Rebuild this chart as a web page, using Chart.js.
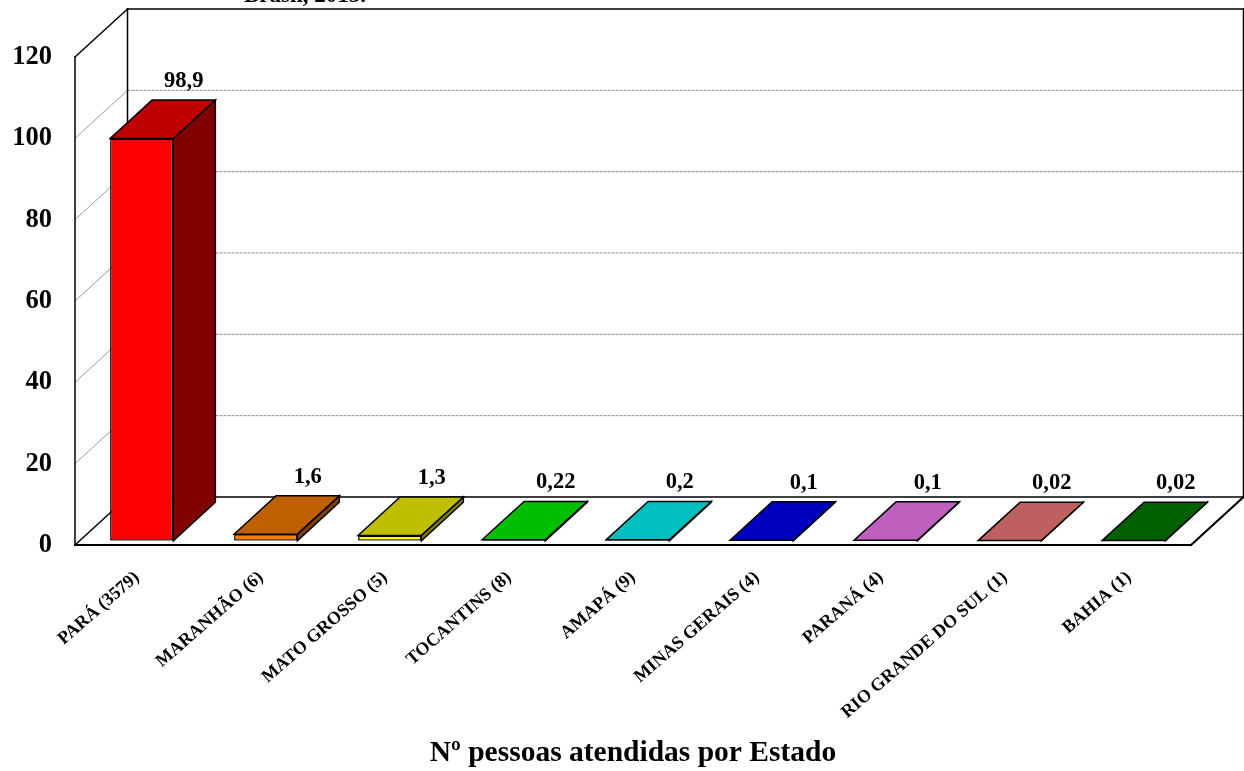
<!DOCTYPE html>
<html lang="pt-BR">
<head>
<meta charset="utf-8">
<title>Nº pessoas atendidas por Estado</title>
<script src="https://cdn.jsdelivr.net/npm/chart.js@4.4.1/dist/chart.umd.min.js"></script>
<style>
  html, body { margin: 0; padding: 0; background: #ffffff; }
  #wrap { position: relative; width: 1244px; height: 771px; }
</style>
</head>
<body>
<div id="wrap"><canvas id="chart"></canvas></div>
<script>
// Estados (entre parênteses, número de pessoas atendidas)
const estados = [
  'PARÁ (3579)', 'MARANHÃO (6)', 'MATO GROSSO (5)', 'TOCANTINS (8)', 'AMAPÁ (9)',
  'MINAS GERAIS (4)', 'PARANÁ (4)', 'RIO GRANDE DO SUL (1)', 'BAHIA (1)'
];
// Percentual de pessoas atendidas por Estado
const percentuais = [98.9, 1.6, 1.3, 0.22, 0.2, 0.1, 0.1, 0.02, 0.02];
// Escala do eixo vertical
const eixoY = { min: 0, max: 120, passo: 20 };
// Cor da face frontal de cada barra
const coresFrente = ['#FF0000', '#FF8000', '#FFFF00', '#00FF00', '#00FFFF', '#0000FF', '#FF80FF', '#FF8080', '#008000'];
const tituloEixoX = 'Nº pessoas atendidas por Estado';
const tituloTopo = 'Brasil, 2013.';

const FONTE = '"Liberation Serif", "Times New Roman", serif';

// Profundidade da caixa 3D (vetor de recuo) e posição das barras dentro dela
const PROF = { dx: 52.5, dy: -48 };
const RECUO_FRENTE = 0.09;
const RECUO_FUNDO = 0.89;

function escurecer(hex, k) {
  const n = parseInt(hex.slice(1), 16);
  const r = Math.round(((n >> 16) & 255) * k);
  const g = Math.round(((n >> 8) & 255) * k);
  const b = Math.round((n & 255) * k);
  return `rgb(${r},${g},${b})`;
}

function poligono(ctx, pts, fill, stroke, lw) {
  ctx.beginPath();
  ctx.moveTo(pts[0][0], pts[0][1]);
  for (let i = 1; i < pts.length; i++) ctx.lineTo(pts[i][0], pts[i][1]);
  ctx.closePath();
  if (fill) { ctx.fillStyle = fill; ctx.fill(); }
  if (stroke) { ctx.strokeStyle = stroke; ctx.lineWidth = lw; ctx.lineJoin = 'miter'; ctx.stroke(); }
}

function linha(ctx, x1, y1, x2, y2) {
  ctx.beginPath();
  ctx.moveTo(x1, y1);
  ctx.lineTo(x2, y2);
  ctx.stroke();
}

const caixa3d = {
  id: 'caixa3d',
  beforeDatasetsDraw(chart) {
    const { ctx, chartArea: a, scales: { y } } = chart;
    const L = a.left, R = a.right, T = a.top, B = a.bottom;
    const dx = PROF.dx, dy = PROF.dy;
    ctx.save();
    // parede do fundo, parede lateral e piso
    poligono(ctx, [[L + dx, T + dy], [R + dx, T + dy], [R + dx, B + dy], [L + dx, B + dy]], '#ffffff');
    poligono(ctx, [[L, T], [L + dx, T + dy], [L + dx, B + dy], [L, B]], '#ffffff');
    poligono(ctx, [[L, B], [R, B], [R + dx, B + dy], [L + dx, B + dy]], '#ffffff');

    // linhas de grade
    ctx.lineWidth = 1;
    y.ticks.forEach(t => {
      if (t.value <= y.min || t.value >= y.max) return;
      const py = y.getPixelForValue(t.value);
      ctx.strokeStyle = '#8c8c8c';
      ctx.setLineDash([3, 1]);
      linha(ctx, L + dx, py + dy, R + dx, py + dy);
      ctx.setLineDash([]);
      ctx.strokeStyle = '#9a9a9a';
      linha(ctx, L, py, L + dx, py + dy);
    });

    // arestas da caixa
    ctx.strokeStyle = '#000000';
    ctx.lineWidth = 1.5;
    ctx.lineCap = 'square';
    linha(ctx, L + dx, T + dy, R + dx, T + dy);
    linha(ctx, R + dx, T + dy, R + dx, B + dy);
    linha(ctx, L + dx, T + dy, L + dx, B + dy);
    linha(ctx, L + dx, B + dy, R + dx, B + dy);
    linha(ctx, L, T, L + dx, T + dy);
    linha(ctx, L, T, L, B);
    linha(ctx, L, B, L + dx, B + dy);
    ctx.lineWidth = 2;
    linha(ctx, L, B, R, B);
    linha(ctx, R, B, R + dx, B + dy);
    ctx.restore();
  },
  beforeDatasetDraw(chart) {
    chart.ctx.save();
    chart.ctx.translate(RECUO_FRENTE * PROF.dx, RECUO_FRENTE * PROF.dy);
  },
  afterDatasetDraw(chart, args) {
    const ctx = chart.ctx;
    ctx.restore();
    const ox = RECUO_FRENTE * PROF.dx, oy = RECUO_FRENTE * PROF.dy;
    const bx = (RECUO_FUNDO - RECUO_FRENTE) * PROF.dx, by = (RECUO_FUNDO - RECUO_FRENTE) * PROF.dy;
    ctx.save();
    args.meta.data.forEach((bar, i) => {
      const p = bar.getProps(['x', 'y', 'base', 'width'], true);
      const esq = p.x - p.width / 2 + ox, dir = p.x + p.width / 2 + ox;
      const topo = Math.min(p.y, p.base) + oy, baseY = Math.max(p.y, p.base) + oy;
      const cor = coresFrente[i % coresFrente.length];
      // face lateral
      poligono(ctx, [[dir, topo], [dir + bx, topo + by], [dir + bx, baseY + by], [dir, baseY]],
        escurecer(cor, 0.5), '#000000', 1.5);
      // face superior
      poligono(ctx, [[esq, topo], [dir, topo], [dir + bx, topo + by], [esq + bx, topo + by]],
        escurecer(cor, 0.75), '#000000', 1.5);
    });
    ctx.restore();
  },
  afterDatasetsDraw(chart) {
    const ctx = chart.ctx;
    const ds = chart.data.datasets[0];
    const meta = chart.getDatasetMeta(0);
    const ox = RECUO_FUNDO * PROF.dx, oy = RECUO_FUNDO * PROF.dy;
    ctx.save();
    ctx.fillStyle = '#000000';
    ctx.font = `bold 22.5px ${FONTE}`;
    ctx.textAlign = 'center';
    ctx.textBaseline = 'alphabetic';
    meta.data.forEach((bar, i) => {
      const p = bar.getProps(['x', 'y', 'base'], true);
      const v = ds.data[i];
      const texto = String(v).replace('.', ',');
      ctx.fillText(texto, p.x + ox, Math.min(p.y, p.base) + oy - 13);
    });
    // título (parte inferior visível no topo)
    ctx.font = `bold 23px ${FONTE}`;
    ctx.fillText(tituloTopo, 305, 2);
    ctx.restore();
  }
};

new Chart(document.getElementById('chart'), {
  type: 'bar',
  data: {
    labels: estados,
    datasets: [{
      data: percentuais,
      backgroundColor: coresFrente,
      borderColor: '#000000',
      borderWidth: 1.5,
      borderSkipped: false,
      categoryPercentage: 1,
      barPercentage: 0.51
    }]
  },
  options: {
    responsive: true,
    maintainAspectRatio: false,
    animation: false,
    layout: { padding: { top: 57, right: 53, bottom: 0, left: 0 } },
    plugins: {
      legend: { display: false },
      tooltip: { enabled: false },
      title: { display: false }
    },
    scales: {
      x: {
        grid: { display: false, drawTicks: false },
        border: { display: false },
        ticks: {
          color: '#000000',
          font: { family: FONTE, size: 18, weight: 'bold' },
          minRotation: 41,
          maxRotation: 41,
          autoSkip: false,
          padding: 22
        },
        title: {
          display: true,
          text: tituloEixoX,
          color: '#000000',
          font: { family: FONTE, size: 29.5, weight: 'bold' },
          padding: { top: 0, bottom: 0 }
        },
        afterFit(scale) { scale.height = 226; }
      },
      y: {
        min: eixoY.min,
        max: eixoY.max,
        grid: { display: false, drawTicks: false },
        border: { display: false },
        ticks: {
          stepSize: eixoY.passo,
          color: '#000000',
          font: { family: FONTE, size: 26.5, weight: 'bold' },
          padding: 23
        },
        afterFit(scale) { scale.width = 75; }
      }
    }
  },
  plugins: [caixa3d]
});
</script>
</body>
</html>
